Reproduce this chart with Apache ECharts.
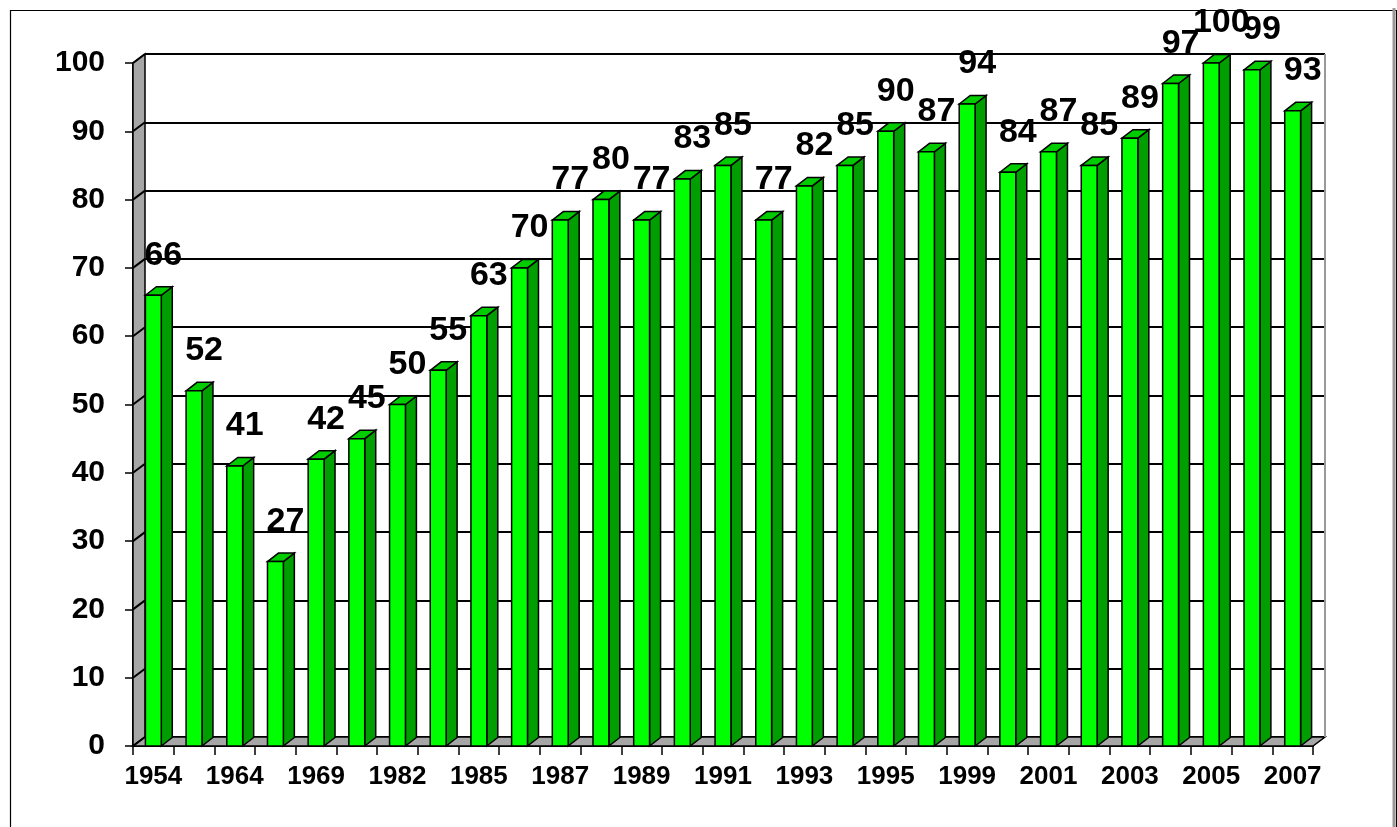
<!DOCTYPE html>
<html>
<head>
<meta charset="utf-8">
<script src="https://cdn.jsdelivr.net/npm/echarts@6/dist/echarts.min.js"></script>
<style>
  html, body { margin: 0; padding: 0; background: #fff; }
  #main { width: 1397px; height: 827px; }
</style>
</head>
<body>
<div id="main"></div>
<script>
// years (only every other one is labelled in the original)
var years = ['1954','1959','1964','1967','1969','1979','1982','1984','1985','1986',
             '1987','1988','1989','1990','1991','1992','1993','1994','1995','1997',
             '1999','2000','2001','2002','2003','2004','2005','2006','2007'];
var values = [66,52,41,27,42,45,50,55,63,70,77,80,77,83,85,77,82,85,90,87,94,84,87,85,89,97,100,99,93];
var yTicks = [0,10,20,30,40,50,60,70,80,90,100];

var FONT = 'Arial, "Liberation Sans", sans-serif';
var DX = 12, DY = -9;      // depth of the back wall
var BDX = 11, BDY = -8.5;  // depth of a bar

var myChart = echarts.init(document.getElementById('main'));

// left wall, floor and the little diagonals on the wall
function renderFrame(params, api){
    var n = years.length;
    var p0 = api.coord([0, 0]);
    var half = api.size([1, 0])[0] / 2;
    var xl = p0[0] - half, xr = api.coord([n - 1, 0])[0] + half;
    var yb = p0[1], yt = api.coord([0, 100])[1];
    var kids = [];
    kids.push({type:'polygon', shape:{points:[[xl,yt],[xl+DX,yt+DY],[xl+DX,yb+DY],[xl,yb]]},
        style:{fill:'#a6a6a6', stroke:'#000', lineWidth:1.5}});
    kids.push({type:'polygon', shape:{points:[[xl,yb],[xr,yb],[xr+DX,yb+DY],[xl+DX,yb+DY]]},
        style:{fill:'#a6a6a6', stroke:'#000', lineWidth:1.5}});
    kids.push({type:'line', shape:{x1:xr+DX, y1:yt+DY, x2:xr+DX, y2:yb+DY},
        style:{stroke:'#999', lineWidth:2}});
    yTicks.forEach(function(t){
        var y = api.coord([0, t])[1];
        kids.push({type:'line', shape:{x1:xl, y1:y, x2:xl+DX, y2:y+DY},
            style:{stroke:'#000', lineWidth:2}});
    });
    return {type:'group', children:kids};
}

function renderBar(params, api){
    var idx = api.value(0), v = api.value(1);
    var top = api.coord([idx, v]);
    var base = api.coord([idx, 0]);
    var w = api.size([1, 0])[0] * 0.39;
    var x1 = top[0] - w / 2, x2 = top[0] + w / 2;
    var yt = top[1], yb = base[1];
    return {
        type:'group',
        children:[
            {type:'polygon', shape:{points:[[x2,yt],[x2+BDX,yt+BDY],[x2+BDX,yb+BDY],[x2,yb]]},
                style:{fill:'#009e00', stroke:'#000', lineWidth:1.5}},
            {type:'polygon', shape:{points:[[x1,yt],[x1+BDX,yt+BDY],[x2+BDX,yt+BDY],[x2,yt]]},
                style:{fill:'#00cc00', stroke:'#000', lineWidth:1.5}},
            {type:'rect', shape:{x:x1, y:yt, width:w, height:yb-yt},
                style:{fill:'#00ff00', stroke:'#000', lineWidth:1.5}},
            {type:'text', x:top[0] + 10, y:yt - 23, z2:10,
                style:{text:String(v), fill:'#000', font:'bold 34px ' + FONT,
                    textAlign:'center', textVerticalAlign:'bottom'}}
        ]
    };
}

var option = {
    animation:false,
    graphic:[
        {type:'rect', left:8, top:8, shape:{width:1386, height:840},
            style:{fill:'none', stroke:'#000', lineWidth:1.2}, z:-10},
        {type:'line', shape:{x1:1394, y1:8, x2:1394, y2:827},
            style:{stroke:'#999', lineWidth:3}, z:-9}
    ],
    grid:[
        {left:133, top:63, width:1180, height:683},
        {left:133 + DX, top:63 + DY, width:1180, height:683}
    ],
    xAxis:[
        {type:'category', gridIndex:0, data:years,
            axisLine:{show:true, lineStyle:{color:'#000', width:2}},
            axisTick:{show:true, interval:0, length:9, lineStyle:{color:'#000', width:1.5}},
            axisLabel:{interval:1, color:'#000', fontFamily:FONT, fontWeight:'bold', fontSize:26, margin:18}},
        {type:'category', gridIndex:1, data:years, show:false}
    ],
    yAxis:[
        {type:'value', gridIndex:0, min:0, max:100, interval:10,
            axisLine:{show:true, lineStyle:{color:'#000', width:2}},
            axisTick:{show:true, length:8, lineStyle:{color:'#000', width:1.5}},
            axisLabel:{color:'#000', fontFamily:FONT, fontWeight:'bold', fontSize:30, margin:28},
            splitLine:{show:false}},
        {type:'value', gridIndex:1, min:0, max:100, interval:10,
            axisLine:{show:false}, axisTick:{show:false}, axisLabel:{show:false},
            splitLine:{show:true, lineStyle:{color:'#000', width:2}}}
    ],
    series:[
        {type:'custom', xAxisIndex:0, yAxisIndex:0, data:[[0,0]], renderItem:renderFrame, z:1, silent:true},
        {type:'custom', xAxisIndex:0, yAxisIndex:0, z:3,
            data:values.map(function(v, i){ return [i, v]; }),
            encode:{x:0, y:1}, renderItem:renderBar}
    ]
};
myChart.setOption(option);
</script>
</body>
</html>
